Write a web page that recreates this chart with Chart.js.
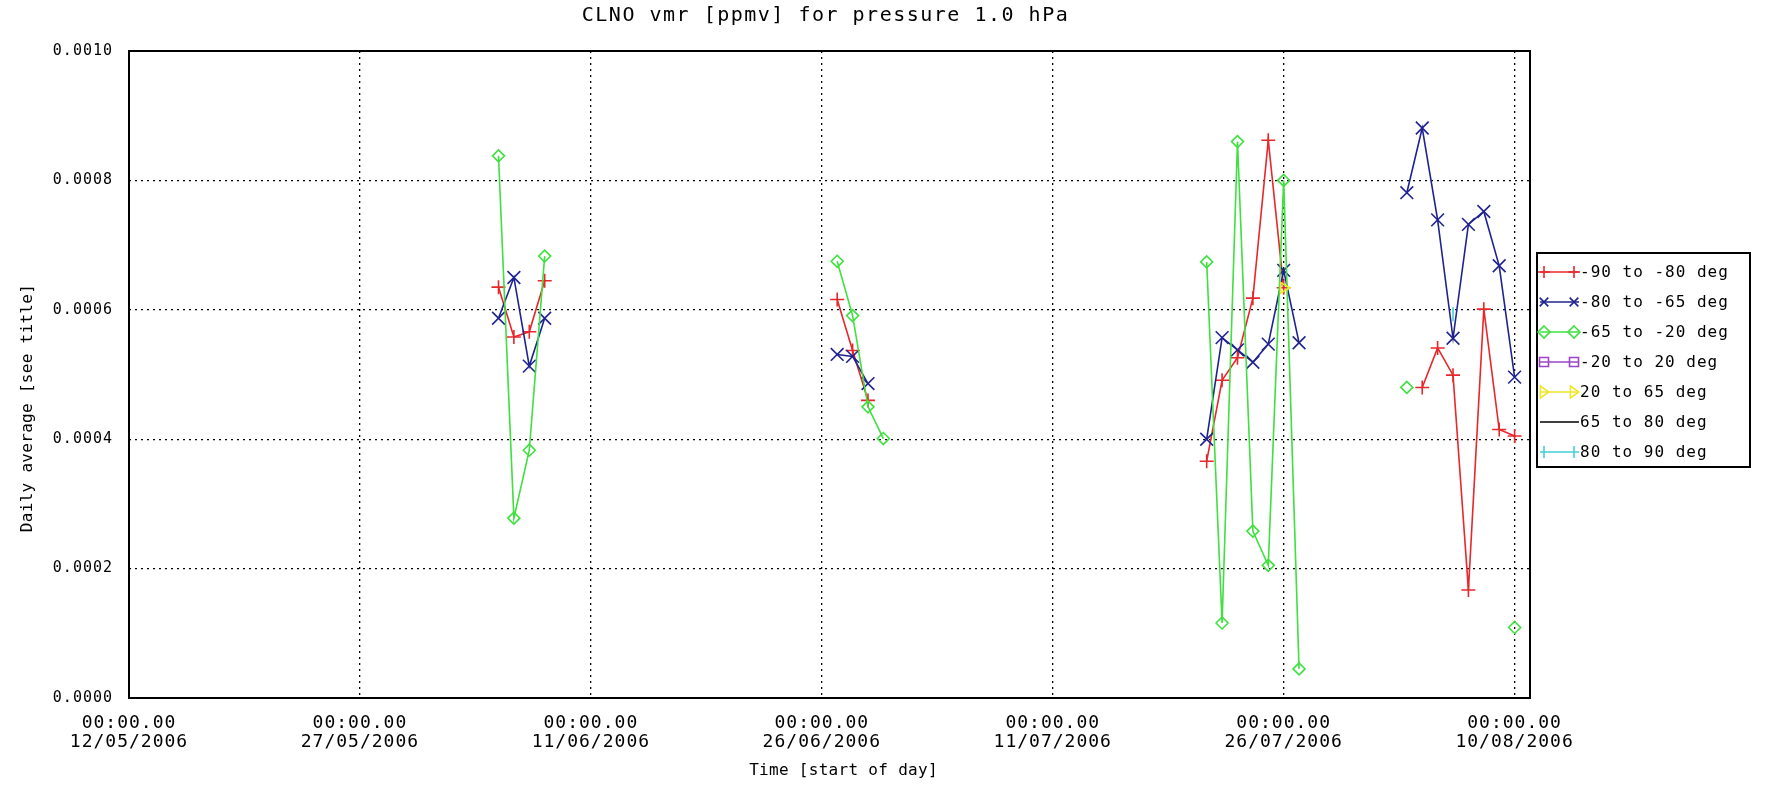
<!DOCTYPE html>
<html><head><meta charset="utf-8">
<script src="https://cdn.jsdelivr.net/npm/chart.js@4.4.1/dist/chart.umd.min.js"></script>
<style>html,body{margin:0;padding:0;background:#fff}canvas{display:block}</style>
</head><body>
<canvas id="c" width="1788" height="787"></canvas>
<script>
// ---- data (days since 12/05/2006 00:00) ----
const days = [24,25,26,27, 46,47,48,49, 70,71,72,73,74,75,76, 83,84,85,86,87,88,89,90];
const seriesNames = ['-90 to -80 deg','-80 to -65 deg','-65 to -20 deg','-20 to 20 deg','20 to 65 deg','65 to 80 deg','80 to 90 deg'];
const s90to80 = [0.000635,0.000558,0.000566,0.000645, 0.000616,0.000537,0.000460,null, 0.000366,0.000491,0.000526,0.000618,0.000862,0.000634,null, null,0.000480,0.000541,0.000499,0.000167,0.000601,0.000415,0.000405];
const s80to65 = [0.000587,0.000650,0.000513,0.000587, 0.000531,0.000528,0.000486,null, 0.000400,0.000557,0.000538,0.000519,0.000547,0.000661,0.000549, 0.000781,0.000881,0.000739,0.000556,0.000732,0.000752,0.000668,0.000496];
const s65to20 = [0.000838,0.000278,0.000383,0.000683, 0.000675,0.000591,0.000450,0.000401, 0.000674,0.000116,0.000860,0.000258,0.000205,0.000800,0.000045, 0.000480,null,null,null,null,null,null,0.000109];
const s20to20 = [null,null,null,null, null,null,null,null, null,null,null,null,null,null,null, null,null,null,null,null,null,null,null];
const s20to65 = [null,null,null,null, null,null,null,null, null,null,null,null,null,0.000634,null, null,null,null,null,null,null,null,null];
const s65to80 = [null,null,null,null, null,null,null,null, null,null,null,null,null,null,null, null,null,null,null,null,null,null,null];
const s80to90 = [null,null,null,null, null,null,null,null, null,null,null,null,null,null,null, null,null,null,0.000593,null,null,null,null];
const xTickDays = [0,15,30,45,60,75,90];
const xTickDates = ['12/05/2006','27/05/2006','11/06/2006','26/06/2006','11/07/2006','26/07/2006','10/08/2006'];
const xTickTime = '00:00.00';
const yTickVals = [0,0.0002,0.0004,0.0006,0.0008,0.0010];
const yTickLabels = ['0.0000','0.0002','0.0004','0.0006','0.0008','0.0010'];
const titleText = 'CLNO vmr [ppmv] for pressure 1.0 hPa';
const xTitle = 'Time [start of day]';
const yTitle = 'Daily average [see title]';

// ---- styles ----
const colors = ['#e8272b','#1f2390','#3fe03f','#9b45c8','#f0e62a','#000000','#45cfd6'];
const styles = [
  {pointStyle:'cross', radius:7, rotation:0},
  {pointStyle:'crossRot', radius:9, rotation:0},
  {pointStyle:'rectRot', radius:6, rotation:0},
  {pointStyle:'rect', radius:6, rotation:0},
  {pointStyle:'triangle', radius:6, rotation:90},
  {pointStyle:false, radius:0, rotation:0},
  {pointStyle:'line', radius:7, rotation:90}
];
const allSeries = [s90to80,s80to65,s65to20,s20to20,s20to65,s65to80,s80to90];

function toPoints(vals){
  const pts = [];
  for (let i=0;i<days.length;i++){
    if (i>0 && days[i]-days[i-1]>1) pts.push({x:(days[i]+days[i-1])/2, y:null});
    pts.push({x:days[i], y:vals[i]});
  }
  return pts;
}

const MONO = '"DejaVu Sans Mono", monospace';

const datasets = allSeries.map((vals,i)=>({
  label: seriesNames[i],
  data: toPoints(vals),
  borderColor: colors[i],
  backgroundColor: 'rgba(255,255,255,0)',
  pointBorderColor: colors[i],
  pointBackgroundColor: 'rgba(255,255,255,0)',
  borderWidth: 1.6,
  pointBorderWidth: 1.6,
  pointStyle: styles[i].pointStyle,
  pointRadius: styles[i].radius,
  pointRotation: styles[i].rotation,
  pointHoverRadius: styles[i].radius,
  spanGaps: false,
  tension: 0,
  order: 10 - i
}));

function drawMarker(ctx, style, x, y, r, color){
  ctx.save();
  ctx.strokeStyle = color; ctx.lineWidth = 1.6; ctx.beginPath();
  if (style==='cross'){ ctx.moveTo(x-r,y); ctx.lineTo(x+r,y); ctx.moveTo(x,y-r); ctx.lineTo(x,y+r); }
  else if (style==='crossRot'){ const d=r*0.72; ctx.moveTo(x-d,y-d); ctx.lineTo(x+d,y+d); ctx.moveTo(x-d,y+d); ctx.lineTo(x+d,y-d); }
  else if (style==='rectRot'){ ctx.moveTo(x,y-r); ctx.lineTo(x+r,y); ctx.lineTo(x,y+r); ctx.lineTo(x-r,y); ctx.closePath(); }
  else if (style==='rect'){ const d=r*0.75; ctx.rect(x-d,y-d,2*d,2*d); }
  else if (style==='triangle'){ ctx.moveTo(x-r*0.6,y-r); ctx.lineTo(x+r*0.8,y); ctx.lineTo(x-r*0.6,y+r); ctx.closePath(); }
  else if (style==='line'){ ctx.moveTo(x,y-r); ctx.lineTo(x,y+r); }
  ctx.stroke(); ctx.restore();
}

const framePlugin = {
  id: 'frame',
  beforeDraw(chart){
    const ctx = chart.ctx;
    ctx.save(); ctx.fillStyle = '#fff'; ctx.fillRect(0,0,chart.width,chart.height); ctx.restore();
    ctx.letterSpacing = '1px';
  },
  afterDraw(chart){
    const ctx = chart.ctx, a = chart.chartArea;
    ctx.save();
    // plot frame
    ctx.strokeStyle = '#000'; ctx.lineWidth = 2; ctx.setLineDash([]);
    ctx.strokeRect(a.left, a.top, a.right - a.left, a.bottom - a.top);
    // titles
    ctx.fillStyle = '#000';
    ctx.textAlign = 'center'; ctx.textBaseline = 'middle';
    ctx.letterSpacing = '1.5px';
    ctx.font = '20px ' + MONO;
    ctx.fillText(titleText, (a.left + a.right)/2 - 4, 16);
    ctx.letterSpacing = '0.3px';
    ctx.font = '16px ' + MONO;
    ctx.fillText(xTitle, (a.left + a.right)/2 + 14, 771);
    ctx.save(); ctx.translate(28, 408); ctx.rotate(-Math.PI/2); ctx.fillText(yTitle, 0, 0); ctx.restore();
    // legend
    const bx = 1537, by = 253, bw = 213, bh = 214, step = 30, y0 = 272;
    ctx.lineWidth = 2; ctx.strokeStyle = '#000';
    ctx.strokeRect(bx, by, bw, bh);
    ctx.font = '16px ' + MONO; ctx.letterSpacing = '1px';
    ctx.textAlign = 'left';
    seriesNames.forEach((name,i)=>{
      const y = y0 + i*step;
      ctx.strokeStyle = colors[i]; ctx.lineWidth = 1.6;
      ctx.beginPath(); ctx.moveTo(bx+3, y); ctx.lineTo(bx+42, y); ctx.stroke();
      if (styles[i].pointStyle){
        drawMarker(ctx, styles[i].pointStyle, bx+7, y, 6, colors[i]);
        drawMarker(ctx, styles[i].pointStyle, bx+37, y, 6, colors[i]);
      }
      ctx.fillStyle = '#000';
      ctx.fillText(name, bx+43, y+1);
    });
    ctx.restore();
  }
};

Chart.defaults.color = '#000';
Chart.defaults.font.family = MONO;

new Chart(document.getElementById('c'), {
  type: 'line',
  data: { datasets },
  plugins: [framePlugin],
  options: {
    responsive: false,
    animation: false,
    devicePixelRatio: 1,
    layout: { padding: { left: 0, right: 258, top: 51, bottom: 0 } },
    plugins: { legend: { display: false }, title: { display: false }, tooltip: { enabled: false } },
    elements: { line: { fill: false } },
    scales: {
      x: {
        type: 'linear', min: 0, max: 91,
        afterBuildTicks: s => { s.ticks = xTickDays.map(v => ({value: v})); },
        afterFit: s => { s.height = 89; },
        ticks: {
          autoSkip: false, maxRotation: 0, minRotation: 0, padding: 15,
          font: { size: 18, family: MONO, lineHeight: 1.1 },
          callback: (v, i) => [xTickTime, xTickDates[i]]
        },
        grid: { color: '#000', lineWidth: 1.3, drawTicks: false },
        border: { display: false, dash: [2, 4] }
      },
      y: {
        type: 'linear', min: 0, max: 0.001,
        afterBuildTicks: s => { s.ticks = yTickVals.map(v => ({value: v})); },
        afterFit: s => { s.width = 129; },
        ticks: {
          padding: 16,
          font: { size: 15, family: MONO },
          callback: (v, i) => yTickLabels[i]
        },
        grid: { color: '#000', lineWidth: 1.3, drawTicks: false },
        border: { display: false, dash: [2, 4] }
      }
    }
  }
});
</script>
</body></html>
